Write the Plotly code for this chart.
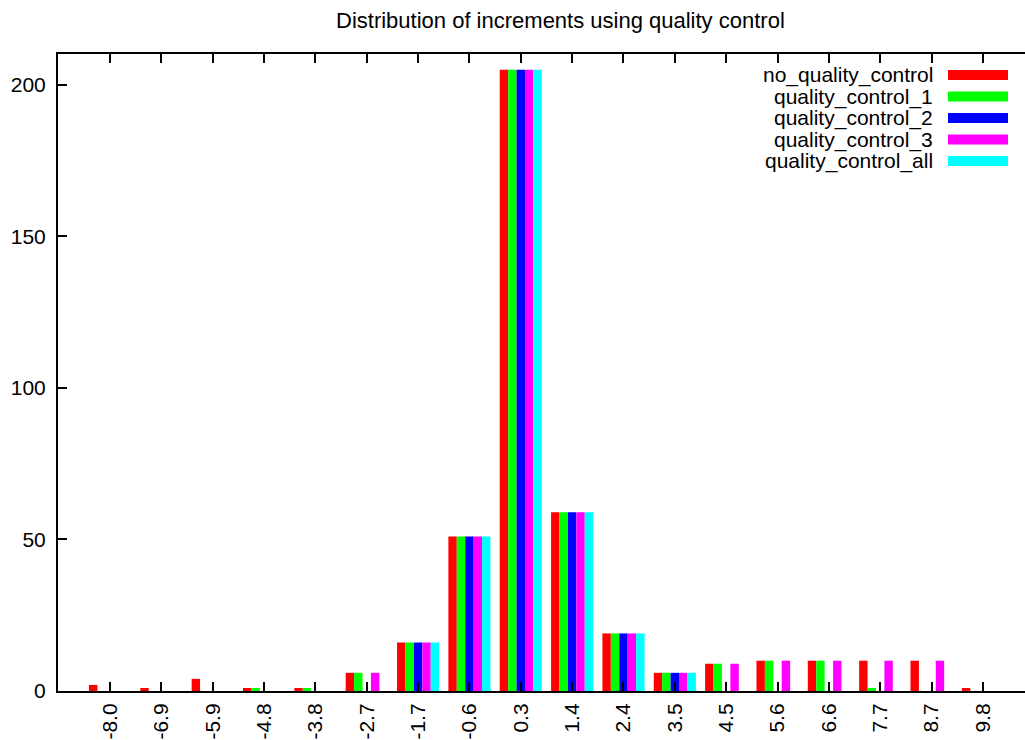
import plotly.graph_objects as go

# Histogram of increments per quality-control setting
bins = ["-8.0", "-6.9", "-5.9", "-4.8", "-3.8", "-2.7", "-1.7", "-0.6", "0.3",
        "1.4", "2.4", "3.5", "4.5", "5.6", "6.6", "7.7", "8.7", "9.8"]

series_names = ["no_quality_control", "quality_control_1", "quality_control_2",
                "quality_control_3", "quality_control_all"]

no_quality_control = [2, 1, 4, 1, 1, 6, 16, 51, 205, 59, 19, 6, 9, 10, 10, 10, 10, 1]
quality_control_1 = [0, 0, 0, 1, 1, 6, 16, 51, 205, 59, 19, 6, 9, 10, 10, 1, 0, 0]
quality_control_2 = [0, 0, 0, 0, 0, 0, 16, 51, 205, 59, 19, 6, 0, 0, 0, 0, 0, 0]
quality_control_3 = [0, 0, 0, 0, 0, 6, 16, 51, 205, 59, 19, 6, 9, 10, 10, 10, 10, 0]
quality_control_all = [0, 0, 0, 0, 0, 0, 16, 51, 205, 59, 19, 6, 0, 0, 0, 0, 0, 0]

series_values = [no_quality_control, quality_control_1, quality_control_2,
                 quality_control_3, quality_control_all]
colors = ["#ff0000", "#00ff00", "#0000ff", "#ff00ff", "#00ffff"]

y_ticks = [0, 50, 100, 150, 200]

FONT = "Liberation Sans"
FS = 21
W, H = 1025, 740
ML, MR, MT, MB = 58, 0, 54, 49
PW, PH = W - ML - MR, H - MT - MB

fig = go.Figure()
positions = list(range(len(bins)))
for name, vals, col in zip(series_names, series_values, colors):
    fig.add_trace(go.Bar(
        x=positions, y=vals, name=name,
        marker=dict(color=col, line=dict(width=0)),
        showlegend=False,
    ))

# Key drawn at the top right: right-aligned label followed by a colour swatch
def px_x(px):
    return (px - ML) / PW

def px_y(py):
    return (H - MB - py) / PH

row_y = [75, 96.5, 118, 139.5, 161]
for name, col, ry in zip(series_names, colors, row_y):
    fig.add_annotation(
        x=px_x(935), y=px_y(ry), xref="paper", yref="paper",
        text=name, showarrow=False, xanchor="right", yanchor="middle",
        font=dict(family=FONT, size=FS, color="black"),
    )
    fig.add_shape(
        type="rect", xref="paper", yref="paper",
        x0=px_x(948), x1=px_x(1008), y0=px_y(ry - 5), y1=px_y(ry + 5),
        fillcolor=col, line=dict(width=0),
    )

fig.add_annotation(
    x=px_x(560), y=px_y(21), xref="paper", yref="paper",
    text="Distribution of increments using quality control", showarrow=False,
    xanchor="center", yanchor="middle",
    font=dict(family=FONT, size=22, color="black"),
)

fig.update_layout(
    width=W, height=H,
    margin=dict(l=ML, r=MR, t=MT, b=MB, pad=0),
    paper_bgcolor="white", plot_bgcolor="white",
    barmode="group", bargap=0.18, bargroupgap=0,
    font=dict(family=FONT, size=FS, color="black"),
)
fig.update_xaxes(
    range=[-1.013, 17.82],
    tickmode="array", tickvals=positions, ticktext=bins,
    tickangle=-90, ticks="inside", ticklen=9, tickwidth=1.5, tickcolor="black",
    showline=True, linecolor="black", linewidth=2, mirror="ticks",
    showgrid=False, zeroline=False,
    ticklabelstandoff=2,
)
fig.update_yaxes(
    range=[0, 210.2],
    tickmode="array", tickvals=y_ticks, ticktext=[str(v) for v in y_ticks],
    ticks="inside", ticklen=9, tickwidth=1.5, tickcolor="black",
    showline=True, linecolor="black", linewidth=2, mirror=False,
    showgrid=False, zeroline=False,
    ticklabelstandoff=6,
)

fig.write_html("out.html")
